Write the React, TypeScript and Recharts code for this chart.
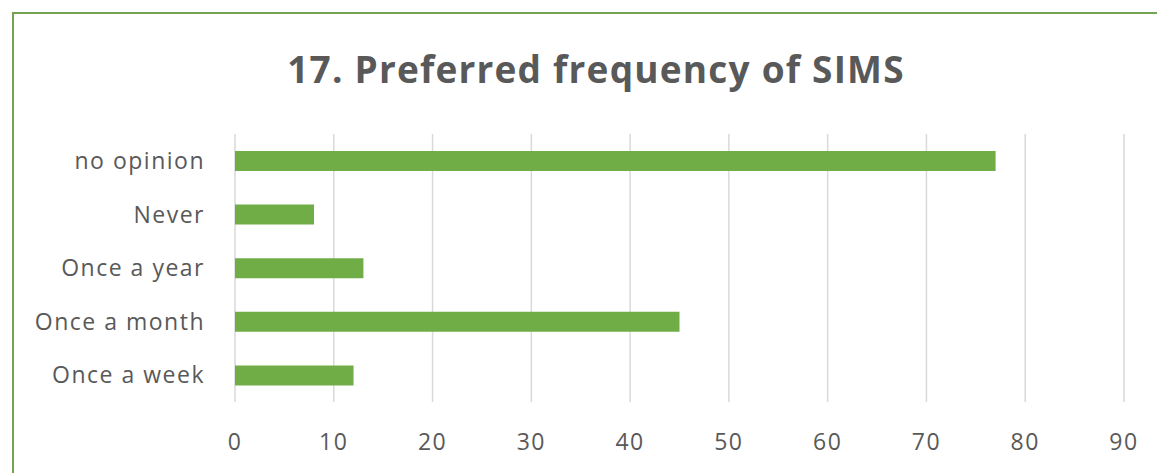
import { BarChart, Bar, XAxis, YAxis, CartesianGrid } from "recharts";

const categories = ["no opinion", "Never", "Once a year", "Once a month", "Once a week"];
const counts = [77, 8, 13, 45, 12];
const xTicks = [0, 10, 20, 30, 40, 50, 60, 70, 80, 90];

const data = categories.map((name, i) => ({ name, value: counts[i] }));

const GREEN = "#70ad47";
const FRAME = "#74a352";
const TEXT = "#595959";

export default function App() {
  return (
    <div
      style={{
        position: "relative",
        width: 1165,
        height: 473,
        margin: "-8px 0 0 -8px",
        overflow: "hidden",
        background: "#fff",
        fontFamily: "'Open Sans', sans-serif",
      }}
    >
      {/* edge of the box above */}
      <div style={{ position: "absolute", left: 8, top: 0, width: 1200, height: 1.5, background: FRAME }} />
      {/* chart frame */}
      <div
        style={{
          position: "absolute",
          left: 12,
          top: 12,
          width: 1200,
          height: 500,
          border: `2px solid ${FRAME}`,
          boxSizing: "border-box",
        }}
      />
      <div
        style={{
          position: "absolute",
          left: 0,
          width: 1192,
          top: 43,
          textAlign: "center",
          fontSize: 37,
          fontWeight: 700,
          letterSpacing: 1.2,
          color: TEXT,
        }}
      >
        17. Preferred frequency of SIMS
      </div>
      <div style={{ position: "absolute", left: 0, top: 0 }}>
        <BarChart
          width={1165}
          height={473}
          data={data}
          layout="vertical"
          margin={{ top: 134, right: 41, bottom: 41, left: 0 }}
          barSize={20}
        >
          <CartesianGrid horizontal={false} stroke="#d9d9d9" strokeWidth={1.5} />
          <XAxis
            type="number"
            domain={[0, 90]}
            ticks={xTicks}
            axisLine={false}
            tickLine={false}
            tickSize={0}
            tickMargin={32}
            height={30}
            tick={{ fill: TEXT, fontSize: 23, letterSpacing: 1.5 }}
          />
          <YAxis
            type="category"
            dataKey="name"
            width={235}
            axisLine={false}
            tickLine={false}
            tickSize={0}
            tickMargin={30}
            tick={{ fill: TEXT, fontSize: 23, letterSpacing: 1.5 }}
          />
          <Bar dataKey="value" fill={GREEN} isAnimationActive={false} />
        </BarChart>
      </div>
    </div>
  );
}
